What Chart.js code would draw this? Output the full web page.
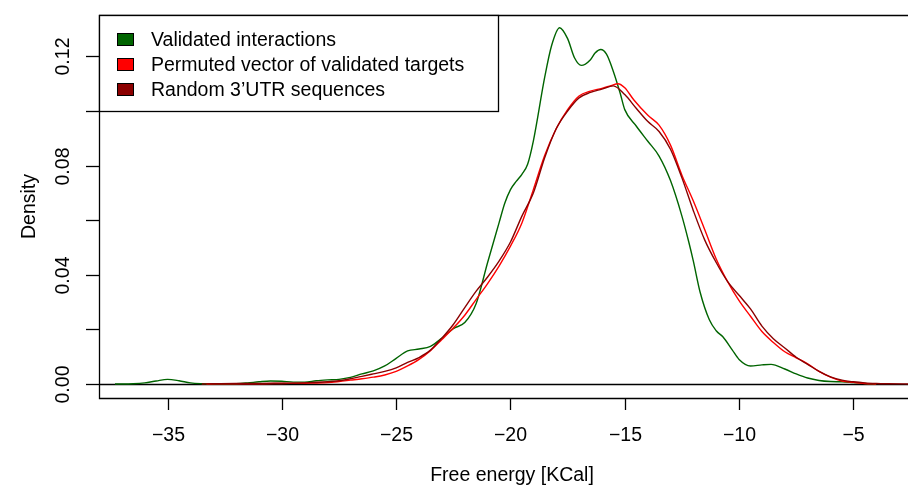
<!DOCTYPE html>
<html>
<head>
<meta charset="utf-8">
<title>Free energy density</title>
<script src="https://cdn.jsdelivr.net/npm/chart.js@4/dist/chart.umd.min.js"></script>
<style>
  html, body { margin: 0; padding: 0; background: #fff; }
  #wrap { width: 908px; height: 489px; }
</style>
</head>
<body>
<div id="wrap"><canvas id="chart" width="908" height="489"></canvas></div>
<script>
// ===== DATA =====
const seriesNames = ['Validated interactions', 'Permuted vector of validated targets', "Random 3\u2019UTR sequences"];
const seriesColors = ['#006400', '#ff0000', '#8b0000'];

const validatedX = [-37.3, -36.5, -36, -35.5, -35, -34.5, -34, -33.5, -33, -32, -31.5, -31, -30.5, -30, -29.5, -29, -28.5, -28, -27.5, -27,
  -26.5, -26, -25.5, -25, -24.5, -24, -23.5, -23, -22.5, -22, -21.5, -21, -20.5, -20.25, -20, -19.75, -19.5, -19.25, -19, -18.5,
  -18.2, -17.85, -17.5, -17.2, -16.9, -16.5, -16.3, -16.05, -15.8, -15.5, -15.2, -15, -14.5, -14, -13.5, -13, -12.5, -12.2, -12, -11.7,
  -11.3, -11, -10.7, -10.3, -10, -9.5, -9, -8.6, -8, -7.5, -7, -6.5, -6, -5.5, -5, -4.5, -4];
const validatedY = [0, 0.0001, 0.0004, 0.0011, 0.0017, 0.0012, 0.0004, 0.0001, 0, 0.0001, 0.0004, 0.0008, 0.0011, 0.001, 0.0007, 0.0007, 0.0012, 0.0015, 0.0017, 0.0024,
  0.0037, 0.0048, 0.0066, 0.0094, 0.0121, 0.0128, 0.0138, 0.0168, 0.0203, 0.0225, 0.0295, 0.0445, 0.059, 0.0662, 0.0712, 0.0742, 0.0768, 0.0805, 0.089, 0.1125,
  0.124, 0.1305, 0.1265, 0.1195, 0.1167, 0.1188, 0.1212, 0.1225, 0.1208, 0.1145, 0.1065, 0.1005, 0.0945, 0.089, 0.0835, 0.0745, 0.0615, 0.052, 0.045, 0.0335,
  0.0235, 0.0195, 0.0172, 0.0125, 0.009, 0.0066, 0.007, 0.0072, 0.0055, 0.0037, 0.0022, 0.0013, 0.0009, 0.0008, 0.0005, 0.0002, 0];

const permutedX = [-33.3, -32, -31, -30, -29, -28, -27.5, -27, -26.5, -26, -25.5, -25, -24.5, -24, -23.5, -23, -22.5, -22, -21.5, -21,
  -20.5, -20, -19.5, -19, -18.5, -18, -17.5, -17, -16.5, -16, -15.6, -15.3, -15, -14.6, -14, -13.5, -13, -12.5, -12, -11.5,
  -11, -10.5, -10, -9.5, -9, -8.5, -8, -7.5, -7, -6.5, -6, -5.5, -5, -4.5, -4];
const permutedY = [0, 0.0001, 0.0001, 0.0002, 0.0003, 0.0005, 0.0009, 0.0014, 0.0019, 0.0025, 0.0033, 0.0046, 0.0066, 0.009, 0.0122, 0.0163, 0.0205, 0.0252, 0.031, 0.0368,
  0.0432, 0.0505, 0.059, 0.0712, 0.0838, 0.0935, 0.1005, 0.1055, 0.1073, 0.1083, 0.1093, 0.11, 0.1085, 0.104, 0.0985, 0.0948, 0.0875, 0.0765, 0.067, 0.0565,
  0.0458, 0.0375, 0.0305, 0.0248, 0.0192, 0.0152, 0.0118, 0.0096, 0.0074, 0.0046, 0.0025, 0.0011, 0.0006, 0.0002, 0];

const randomX = [-33.5, -33, -32, -31, -30, -29, -28, -27.5, -27, -26.5, -26, -25.5, -25, -24.5, -24, -23.5, -23, -22.5, -22, -21.5,
  -21, -20.5, -20, -19.5, -19, -18.5, -18, -17.5, -17, -16.5, -16, -15.5, -15, -14.5, -14, -13.5, -13, -12.5, -12, -11.5,
  -11, -10.5, -10, -9.5, -9, -8.5, -8, -7.5, -7, -6.5, -6, -5.5, -5, -4.5, -4, -3.5, -2.5];
const randomY = [0, 0.0001, 0.0002, 0.0002, 0.0003, 0.0004, 0.0008, 0.0012, 0.0019, 0.0028, 0.0037, 0.0046, 0.0059, 0.0079, 0.0097, 0.0124, 0.0168, 0.0218, 0.028, 0.034,
  0.0392, 0.045, 0.052, 0.0615, 0.070, 0.083, 0.0935, 0.1, 0.1048, 0.1068, 0.108, 0.1092, 0.106, 0.101, 0.0962, 0.0925, 0.086, 0.0755, 0.0635, 0.0527,
  0.0445, 0.0375, 0.0325, 0.0275, 0.0212, 0.0166, 0.0132, 0.0098, 0.0072, 0.0046, 0.0026, 0.0014, 0.0008, 0.0004, 0.0002, 0.0001, 0];

const xTicks = [-35, -30, -25, -20, -15, -10, -5];
const yTicks = [0, 0.02, 0.04, 0.06, 0.08, 0.10, 0.12];
const yTickLabels = ['0.00', '', '0.04', '', '0.08', '', '0.12'];

const FONT = '19.5px "Liberation Sans", Arial, Helvetica, sans-serif';

function toPoints(xs, ys) {
    return xs.map((x, i) => ({ x: x, y: ys[i] }));
}

// ===== R-style box, axes, labels, legend =====
const rAxes = {
    id: 'rAxes',
    beforeDatasetsDraw(chart) {
        const { ctx, chartArea: a, scales: { y } } = chart;
        ctx.save();
        ctx.strokeStyle = '#000';
        ctx.lineWidth = 1.3;
        // zero line (abline h=0)
        const y0 = Math.round(y.getPixelForValue(0)) + 0.5;
        ctx.beginPath();
        ctx.moveTo(a.left, y0);
        ctx.lineTo(a.right, y0);
        ctx.stroke();
        ctx.restore();
    },
    afterDraw(chart) {
        const { ctx, chartArea: a, scales: { x, y } } = chart;
        ctx.save();
        ctx.strokeStyle = '#000';
        ctx.fillStyle = '#000';
        ctx.lineWidth = 1.3;

        // box (right side falls outside the canvas)
        ctx.beginPath();
        ctx.moveTo(a.right + 2, a.top + 0.5);
        ctx.lineTo(a.left + 0.5, a.top + 0.5);
        ctx.lineTo(a.left + 0.5, a.bottom + 0.5);
        ctx.lineTo(a.right + 2, a.bottom + 0.5);
        ctx.stroke();

        // x axis ticks and labels
        ctx.font = FONT;
        ctx.textAlign = 'center';
        ctx.textBaseline = 'middle';
        xTicks.forEach(v => {
            const px = Math.round(x.getPixelForValue(v)) + 0.5;
            ctx.beginPath();
            ctx.moveTo(px, a.bottom);
            ctx.lineTo(px, a.bottom + 12);
            ctx.stroke();
            ctx.fillText('\u2212' + Math.abs(v), px, a.bottom + 38);
        });

        // y axis ticks and rotated labels
        yTicks.forEach((v, i) => {
            const py = Math.round(y.getPixelForValue(v)) + 0.5;
            ctx.beginPath();
            ctx.moveTo(a.left, py);
            ctx.lineTo(a.left - 13, py);
            ctx.stroke();
            if (yTickLabels[i]) {
                ctx.save();
                ctx.translate(64, py);
                ctx.rotate(-Math.PI / 2);
                ctx.fillText(yTickLabels[i], 0, 0);
                ctx.restore();
            }
        });

        // axis titles
        ctx.fillText('Free energy [KCal]', 512, 476);
        ctx.save();
        ctx.translate(30, (a.top + a.bottom) / 2);
        ctx.rotate(-Math.PI / 2);
        ctx.fillText('Density', 0, 0);
        ctx.restore();

        // legend
        ctx.fillStyle = '#fff';
        ctx.fillRect(a.left + 0.5, a.top + 0.5, 399, 96);
        ctx.strokeRect(a.left + 0.5, a.top + 0.5, 399, 96);
        ctx.textAlign = 'left';
        ctx.textBaseline = 'alphabetic';
        seriesNames.forEach((name, i) => {
            const base = 46 + i * 25;
            ctx.fillStyle = seriesColors[i];
            ctx.fillRect(117.5, base - 12.5, 16, 12);
            ctx.lineWidth = 1;
            ctx.strokeRect(117.5, base - 12.5, 16, 12);
            ctx.fillStyle = '#000';
            ctx.fillText(name, 151, base);
        });
        ctx.restore();
    }
};

function lineSet(label, pts, color, order) {
    return {
        label: label,
        data: pts,
        borderColor: color,
        backgroundColor: color,
        borderWidth: 1.4,
        pointRadius: 0,
        fill: false,
        cubicInterpolationMode: 'monotone',
        order: order
    };
}

new Chart(document.getElementById('chart').getContext('2d'), {
    type: 'line',
    data: {
        datasets: [
            lineSet(seriesNames[0], toPoints(validatedX, validatedY), seriesColors[0], 3),
            lineSet(seriesNames[1], toPoints(permutedX, permutedY), seriesColors[1], 2),
            lineSet(seriesNames[2], toPoints(randomX, randomY), seriesColors[2], 1)
        ]
    },
    options: {
        responsive: false,
        animation: false,
        devicePixelRatio: 1,
        layout: { padding: { left: 99, top: 15, right: 0, bottom: 91 } },
        plugins: { legend: { display: false }, tooltip: { enabled: false } },
        scales: {
            x: { type: 'linear', min: -38.0, max: -2.61, display: false },
            y: { type: 'linear', min: -0.00513, max: 0.13516, display: false }
        }
    },
    plugins: [rAxes]
});
</script>
</body>
</html>
